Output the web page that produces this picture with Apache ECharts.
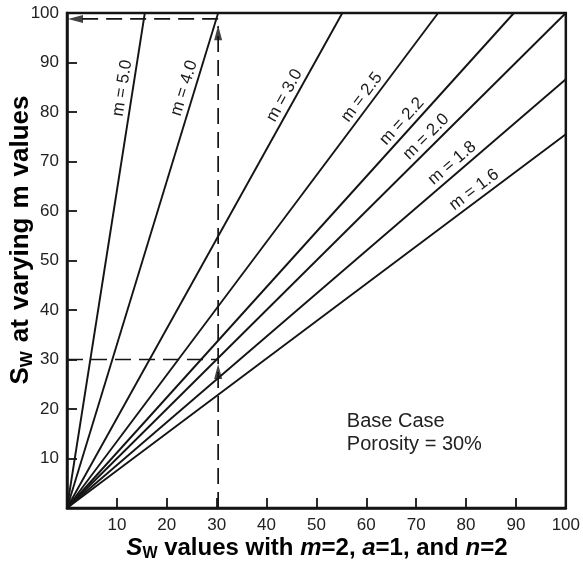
<!DOCTYPE html>
<html>
<head>
<meta charset="utf-8">
<script src="https://cdn.jsdelivr.net/npm/echarts@6/dist/echarts.min.js"></script>
<style>
  html, body { margin: 0; padding: 0; background: #ffffff; }
  #main { width: 583px; height: 567px; }
</style>
</head>
<body>
<div id="main"></div>
<script>
// ---- data ----
const mValues   = ['5.0', '4.0', '3.0', '2.5', '2.2', '2.0', '1.8', '1.6'];
const lineEndX  = [15.6, 30.3, 55.2, 74.4, 89.6, 100, 100, 100];
const lineEndY  = [100, 100, 100, 100, 100, 100, 86.6, 75.5];
const guideX    = 30.3;           // Sw with m=2
const guideLowY = 30;             // Sw at m=2 (horizontal reference)
const guideTopY = 98.8;           // Sw at m=4
const arrowUp   = [[30.3, 27.6], [30.3, 96.0]];
const arrowLeft = [[1.7, 98.8]];
const xTickLabels = [10, 20, 30, 40, 50, 60, 70, 80, 90, 100];
const yTickLabels = [10, 20, 30, 40, 50, 60, 70, 80, 90, 100];
const noteLines = ['Base Case', 'Porosity = 30%'];

// ---- layout (not data) ----
const layout = { labelFrac: [0.845, 0.842, 0.823, 0.817, 0.767, 0.735, 0.786, 0.829], labelOffset: 10.5 };

const INK = '#141414';
const FONT = '"Liberation Sans", Arial, Helvetica, sans-serif';

const lineSeries = mValues.map((m, i) => ({
  type: 'line',
  name: 'm = ' + m,
  data: [[0, 0], [lineEndX[i], lineEndY[i]]],
  showSymbol: false,
  symbol: 'none',
  lineStyle: { color: INK, width: 1.9 },
  silent: true,
  z: 3
}));

const dashStyle = { color: INK, width: 1.7, type: [16, 8] };

const option = {
  animation: false,
  backgroundColor: '#ffffff',
  grid: { left: 67, right: 14, top: 13, bottom: 59, show: true, borderColor: INK, borderWidth: 2.5, backgroundColor: 'transparent' },
  xAxis: {
    type: 'value', min: 0, max: 100, interval: 10,
    axisLine: { show: true, lineStyle: { color: INK, width: 2.5 } },
    axisTick: { show: true, inside: true, length: 10, lineStyle: { color: INK, width: 1.8 } },
    axisLabel: {
      color: '#222', fontSize: 17, fontFamily: FONT, margin: 9,
      formatter: v => (xTickLabels.indexOf(v) >= 0 ? String(v) : '')
    },
    splitLine: { show: false }
  },
  yAxis: {
    type: 'value', min: 0, max: 100, interval: 10,
    axisLine: { show: true, lineStyle: { color: INK, width: 2.5 } },
    axisTick: { show: true, inside: true, length: 10, lineStyle: { color: INK, width: 1.8 } },
    axisLabel: {
      color: '#222', fontSize: 17, fontFamily: FONT, margin: 8,
      formatter: v => (yTickLabels.indexOf(v) >= 0 ? String(v) : '')
    },
    splitLine: { show: false }
  },
  series: lineSeries.concat([
    {
      type: 'line', name: 'guide-low', symbol: 'none', silent: true, z: 4,
      data: [[0, guideLowY], [guideX, guideLowY]],
      lineStyle: dashStyle
    },
    {
      type: 'line', name: 'guide-vert', symbol: 'none', silent: true, z: 4,
      data: [[guideX, 0], [guideX, guideTopY - 1.5]],
      lineStyle: dashStyle
    },
    {
      type: 'line', name: 'guide-top', symbol: 'none', silent: true, z: 4,
      data: [[guideX, guideTopY], [arrowLeft[0][0], guideTopY]],
      lineStyle: dashStyle
    },
    {
      type: 'scatter', name: 'arrow-up', silent: true, z: 5,
      symbol: 'triangle', symbolSize: [8, 15],
      itemStyle: { color: INK },
      data: arrowUp
    },
    {
      type: 'scatter', name: 'arrow-left', silent: true, z: 5,
      symbol: 'triangle', symbolSize: [8, 15], symbolRotate: 90,
      itemStyle: { color: INK },
      data: arrowLeft
    }
  ])
};

const chart = echarts.init(document.getElementById('main'), null, { renderer: 'canvas' });
chart.setOption(option);

const p0 = chart.convertToPixel({ gridIndex: 0 }, [0, 0]);
const labelGraphics = mValues.map((m, i) => {
  const p1 = chart.convertToPixel({ gridIndex: 0 }, [lineEndX[i], lineEndY[i]]);
  const dx = p1[0] - p0[0], dy = p1[1] - p0[1];
  const L = Math.hypot(dx, dy);
  const ux = dx / L, uy = dy / L;
  const nx = uy, ny = -ux;
  const f = layout.labelFrac[i];
  const off = layout.labelOffset;
  return {
    type: 'text',
    x: p0[0] + dx * f + nx * off,
    y: p0[1] + dy * f + ny * off,
    rotation: Math.atan2(-dy, dx),
    silent: true,
    z: 10,
    style: {
      text: 'm = ' + m,
      fill: '#1a1a1a',
      font: '17px ' + FONT,
      align: 'center',
      verticalAlign: 'middle'
    }
  };
});

const richTitle = {
  s: { fontFamily: FONT, fontSize: 24, fontWeight: 'bold', fontStyle: 'italic', color: '#1a1a1a', lineHeight: 28, verticalAlign: 'middle' },
  w: { fontFamily: FONT, fontSize: 16, fontWeight: 'bold', color: '#1a1a1a', lineHeight: 16, verticalAlign: 'bottom' },
  b: { fontFamily: FONT, fontSize: 24, fontWeight: 'bold', color: '#1a1a1a', lineHeight: 28, verticalAlign: 'middle' },
  i: { fontFamily: FONT, fontSize: 24, fontWeight: 'bold', fontStyle: 'italic', color: '#1a1a1a', lineHeight: 28, verticalAlign: 'middle' }
};

const richY = {
  s: { fontFamily: FONT, fontSize: 26, fontWeight: 'bold', color: '#1a1a1a', lineHeight: 30, verticalAlign: 'middle' },
  w: { fontFamily: FONT, fontSize: 17, fontWeight: 'bold', color: '#1a1a1a', lineHeight: 17, verticalAlign: 'bottom' },
  b: { fontFamily: FONT, fontSize: 26, fontWeight: 'bold', color: '#1a1a1a', lineHeight: 30, verticalAlign: 'middle' },
  g: { width: 9, lineHeight: 30 }
};

const noteTopLeft = chart.convertToPixel({ gridIndex: 0 }, [56.1, 19.9]);

chart.setOption({
  graphic: labelGraphics.concat([
    {
      type: 'text', x: 317, y: 548, silent: true,
      style: {
        text: '{s|S}{w|W}{b| values with }{i|m}{b|=2, }{i|a}{b|=1, and }{i|n}{b|=2}',
        rich: richTitle, align: 'center', verticalAlign: 'middle'
      }
    },
    {
      type: 'text', x: 21, y: 240, rotation: Math.PI / 2, silent: true,
      style: {
        text: '{s|S}{w|W}{g| }{b|at}{g| }{b|varying}{g| }{b|m}{g| }{b|values}',
        rich: richY,
        align: 'center', verticalAlign: 'middle'
      }
    },
    {
      type: 'text', x: noteTopLeft[0], y: noteTopLeft[1], silent: true,
      style: {
        text: noteLines.join('\n'),
        font: '20px ' + FONT,
        lineHeight: 23,
        fill: '#222',
        align: 'left',
        verticalAlign: 'top'
      }
    }
  ])
});
</script>
</body>
</html>
